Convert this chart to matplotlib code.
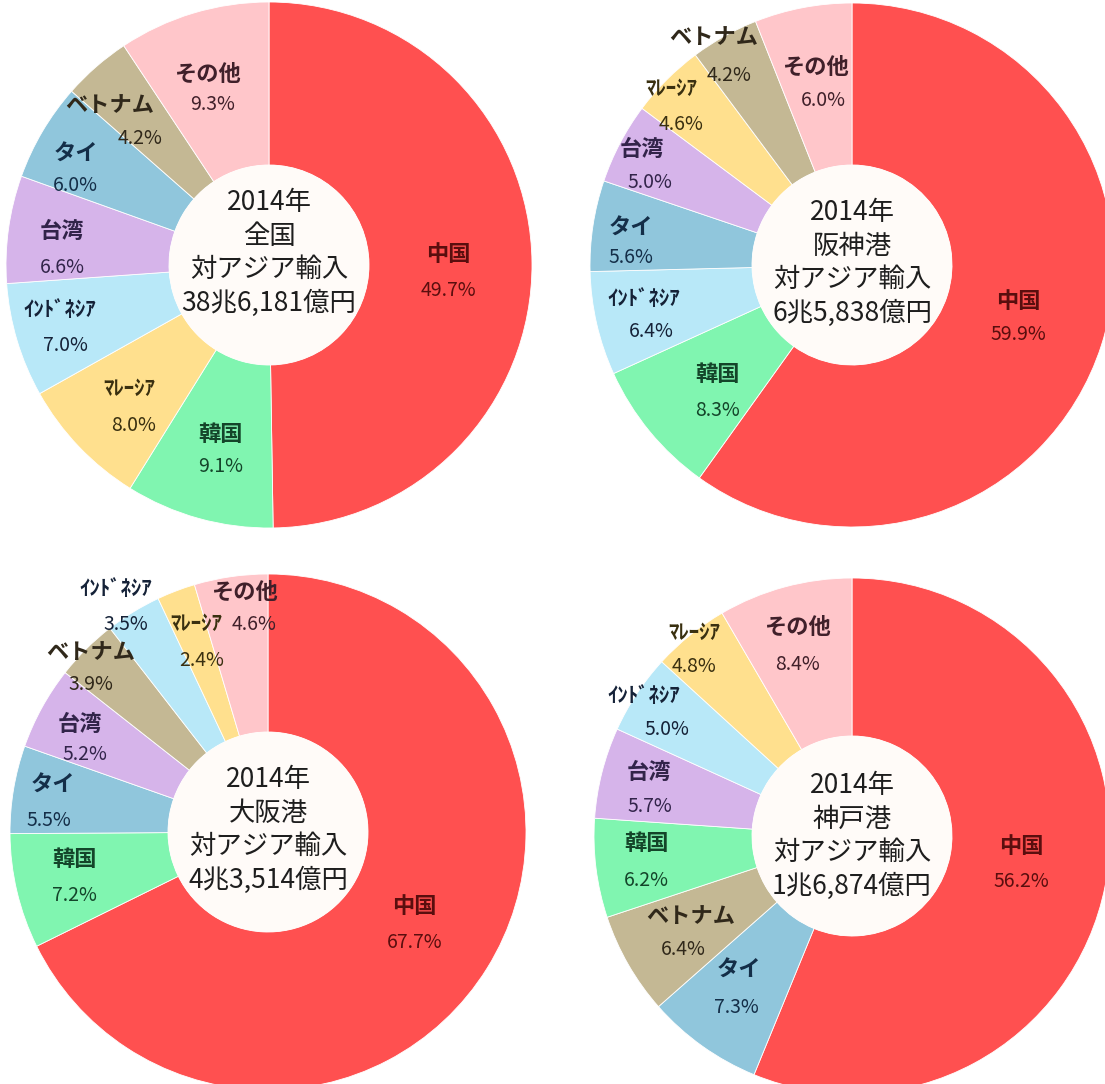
import numpy as np
import matplotlib
matplotlib.use("Agg")
import matplotlib.pyplot as plt
from matplotlib.patches import Circle

plt.rcParams['font.family'] = ['Noto Sans CJK JP', 'DejaVu Sans']

# category styling (slice colour, label colour)
slice_colors = {
    '中国': '#FF5050', '韓国': '#80F5B0', 'ﾏﾚｰｼｱ': '#FFE08E',
    'ｲﾝﾄﾞﾈｼｱ': '#B8E8F8', '台湾': '#D6B4EA', 'タイ': '#90C6DC',
    'ベトナム': '#C4B894', 'その他': '#FFC6CA',
}
text_colors = {
    '中国': '#5A0E0E', '韓国': '#14452A', 'ﾏﾚｰｼｱ': '#3A3010',
    'ｲﾝﾄﾞﾈｼｱ': '#152238', '台湾': '#32244A', 'タイ': '#142E48',
    'ベトナム': '#30281A', 'その他': '#40202A',
}

# data, clockwise from 12 o'clock
zenkoku_labels = ['中国', '韓国', 'ﾏﾚｰｼｱ', 'ｲﾝﾄﾞﾈｼｱ', '台湾', 'タイ', 'ベトナム', 'その他']
zenkoku_values = [49.7, 9.1, 8.0, 7.0, 6.6, 6.0, 4.2, 9.3]

hanshin_labels = ['中国', '韓国', 'ｲﾝﾄﾞﾈｼｱ', 'タイ', '台湾', 'ﾏﾚｰｼｱ', 'ベトナム', 'その他']
hanshin_values = [59.9, 8.3, 6.4, 5.6, 5.0, 4.6, 4.2, 6.0]

osaka_labels = ['中国', '韓国', 'タイ', '台湾', 'ベトナム', 'ｲﾝﾄﾞﾈｼｱ', 'ﾏﾚｰｼｱ', 'その他']
osaka_values = [67.7, 7.2, 5.5, 5.2, 3.9, 3.5, 2.4, 4.6]

kobe_labels = ['中国', 'タイ', 'ベトナム', '韓国', '台湾', 'ｲﾝﾄﾞﾈｼｱ', 'ﾏﾚｰｼｱ', 'その他']
kobe_values = [56.2, 7.3, 6.4, 6.2, 5.7, 5.0, 4.8, 8.4]

center_texts = [
    '2014年\n全国\n対アジア輸入\n38兆6,181億円',
    '2014年\n阪神港\n対アジア輸入\n6兆5,838億円',
    '2014年\n大阪港\n対アジア輸入\n4兆3,514億円',
    '2014年\n神戸港\n対アジア輸入\n1兆6,874億円',
]

W, H = 1105, 1084
fig = plt.figure(figsize=(W / 100, H / 100), dpi=100)
ax = fig.add_axes([0, 0, 1, 1])

# layout: centre (x, y from top) and radius in pixels
layout = [((269, 265), 263), ((852, 265), 262), ((268, 832), 258), ((852, 836), 258)]
center_shift = [12, 2, 2, 0]
hole = 100

# label nudges in pixels (dx, dy downwards): name, percent
nudges = [
    {'中国': ((-2, 8), (-2, 10)), '韓国': ((0, 12), (0, 10)),
     'ﾏﾚｰｼｱ': ((-9, 15), (-4, 18)), 'ｲﾝﾄﾞﾈｼｱ': ((-35, 9), (-30, 11)),
     '台湾': ((-27, 8), (-27, 10)), 'タイ': ((-37, -2), (-37, -4)),
     'ベトナム': ((-40, -6), (-10, -7)), 'その他': ((-9, 0), (-4, -4))},
    {'中国': ((-6, -2), (-6, -3)), '韓国': ((5, 12), (5, 14)),
     'ｲﾝﾄﾞﾈｼｱ': ((-32, 10), (-25, 9)), 'タイ': ((-42, 7), (-42, 3)),
     '台湾': ((-50, -14), (-42, -15)), 'ﾏﾚｰｼｱ': ((-53, -32), (-43, -30)),
     'ベトナム': ((-50, -53), (-35, -49)), 'その他': ((-3, -3), (5, -4))},
    {'中国': ((-5, -2), (-5, 0)), '韓国': ((-20, 3), (-20, 5)),
     'タイ': ((-40, 0), (-44, 1)), '台湾': ((-32, -5), (-27, -9)),
     'ベトナム': ((-52, -36), (-52, -38)), 'ｲﾝﾄﾞﾈｼｱ': ((-59, -75), (-49, -73)),
     'ﾏﾚｰｼｱ': ((-8, -25), (-3, -22)), 'その他': ((2, -46), (12, -48))},
    {'中国': ((-5, -7), (-5, -6)), 'タイ': ((-10, 6), (-12, 9)),
     'ベトナム': ((-7, 9), (-14, 8)), '韓国': ((-29, 2), (-29, 5)),
     '台湾': ((-30, -3), (-30, -3)), 'ｲﾝﾄﾞﾈｼｱ': ((-60, -25), (-37, -25)),
     'ﾏﾚｰｼｱ': ((-46, -48), (-46, -48)), 'その他': ((-8, -20), (-8, -17))},
]

charts = [
    (zenkoku_labels, zenkoku_values),
    (hanshin_labels, hanshin_values),
    (osaka_labels, osaka_values),
    (kobe_labels, kobe_values),
]

for i, (labels, values) in enumerate(charts):
    (cx, cy), r = layout[i]
    cy = H - cy
    ax.pie(values, colors=[slice_colors[l] for l in labels], startangle=90,
           counterclock=False, center=(cx, cy), radius=r,
           wedgeprops=dict(width=r - hole, linewidth=0.6, edgecolor='white'),
           frame=True)
    ax.add_patch(Circle((cx, cy), hole, facecolor='#FFFBF8', edgecolor='none', zorder=3))
    ax.text(cx, cy + center_shift[i], center_texts[i], ha='center', va='center',
            fontsize=19, linespacing=1.3, color='#1E1E1E', zorder=4)

    total = sum(values)
    cum = 0.0
    for lab, v in zip(labels, values):
        mid = cum + v / 2
        cum += v
        ang = np.deg2rad(90 - 360 * mid / total)
        lr = 0.69 * r
        x = cx + lr * np.cos(ang)
        y = cy + lr * np.sin(ang)
        (ndx, ndy), (pdx, pdy) = nudges[i][lab]
        fs = 15 if lab.startswith(('ｲ', 'ﾏ')) else 16
        ax.text(x + ndx, y + 17 - ndy, lab, ha='center', va='center', fontsize=fs,
                fontweight='bold', color=text_colors[lab], zorder=5)
        ax.text(x + pdx, y - 17 - pdy, f'{v:.1f}%', ha='center', va='center',
                fontsize=14, color=text_colors[lab], zorder=5)

ax.set_xlim(0, W)
ax.set_ylim(0, H)
ax.set_aspect('equal')
ax.axis('off')
fig.savefig('out.png', dpi=100, facecolor='white')
